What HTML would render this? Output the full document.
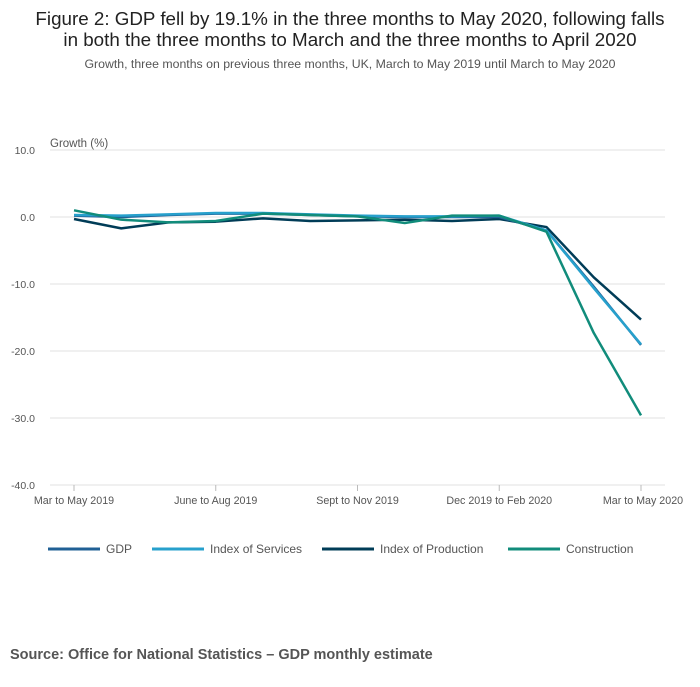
<!DOCTYPE html>
<html><head><meta charset="utf-8"><style>
body{margin:0;background:#fff;font-family:"Liberation Sans",sans-serif;}
svg text{font-family:"Liberation Sans",sans-serif;}
</style></head><body>
<svg width="700" height="682" viewBox="0 0 700 682">
<text x="350" y="25" text-anchor="middle" font-size="18.8" fill="#222">Figure 2: GDP fell by 19.1% in the three months to May 2020, following falls</text>
<text x="350" y="46" text-anchor="middle" font-size="18.8" fill="#222">in both the three months to March and the three months to April 2020</text>
<text x="350" y="68" text-anchor="middle" font-size="12.3" fill="#555">Growth, three months on previous three months, UK, March to May 2019 until March to May 2020</text>
<text x="50" y="147" font-size="11.5" fill="#555">Growth (%)</text>
<g id="grid"></g><g id="lines"></g><g id="xt"></g>
<g id="legend"></g>
<text x="10" y="659" font-size="14.5" font-weight="bold" fill="#555">Source: Office for National Statistics – GDP monthly estimate</text>
</svg>
<script>
const yTicks=[10,0,-10,-20,-30,-40];
const yTickLabels=["10.0","0.0","-10.0","-20.0","-30.0","-40.0"];
const xLabels=["Mar to May 2019","June to Aug 2019","Sept to Nov 2019","Dec 2019 to Feb 2020","Mar to May 2020"];
const xLabelIdx=[0,3,6,9,12];
const seriesNames=["GDP","Index of Services","Index of Production","Construction"];
const gdp=[0.2,0.0,0.3,0.5,0.5,0.3,0.1,0.0,0.0,0.0,-2.0,-10.4,-19.1];
const services=[0.3,0.2,0.4,0.6,0.6,0.4,0.2,0.1,0.1,0.2,-2.0,-10.6,-19.0];
const production=[-0.3,-1.7,-0.8,-0.7,-0.2,-0.6,-0.5,-0.4,-0.6,-0.3,-1.5,-9.0,-15.3];
const construction=[1.0,-0.4,-0.8,-0.6,0.5,0.3,0.1,-0.9,0.2,0.2,-2.2,-17.3,-29.6];
const NS="http://www.w3.org/2000/svg";
const X=i=>74+i*(641-74)/12;
const Y=v=>217-v*6.7;
function mk(t,a,p){const e=document.createElementNS(NS,t);for(const k in a)e.setAttribute(k,a[k]);p.appendChild(e);return e;}
const grid=document.getElementById('grid');
yTicks.forEach((v,i)=>{
 const l=mk('line',{x1:50,x2:665,y1:Y(v),y2:Y(v),stroke:'#e0e0e0'},grid);
 
 
 const t=mk('text',{x:35,y:Y(v)+4,'text-anchor':'end','font-size':10.5,fill:'#555'},grid);
 t.textContent=yTickLabels[i];
 
 
});
const xt=document.getElementById('xt');
xLabelIdx.forEach((idx,i)=>{
 const l=mk('line',{x1:X(idx),x2:X(idx),y1:485,y2:491,stroke:'#bbb'},xt);
 
 
 const t=mk('text',{x:X(idx)+(idx===12?2:0),y:504,'text-anchor':'middle','font-size':10.7,fill:'#555'},xt);
 t.textContent=xLabels[i];
 
 
});
const data=[gdp,services,production,construction];
const colors=["#206095","#27a0cc","#003c57","#118c7b"];
const keys=["gdp","services","production","construction"];
const order=[2,0,1,3];
const lines=document.getElementById('lines');
order.forEach(k=>{
 const p=mk('polyline',{points:data[k].map((v,i)=>X(i)+','+Y(v)).join(' '),fill:'none',stroke:colors[k],'stroke-width':2.5,'stroke-linejoin':'round'},lines);
 
 
});
const lg=document.getElementById('legend');
const lx=[48,152,322,508];
seriesNames.forEach((n,i)=>{
 const l=mk('line',{x1:lx[i],x2:lx[i]+52,y1:549,y2:549,stroke:colors[i],'stroke-width':3},lg);
 
 
 const t=mk('text',{x:lx[i]+58,y:553,'font-size':12,fill:'#555'},lg);
 t.textContent=n;
 
 
});
</script>
</body></html>
